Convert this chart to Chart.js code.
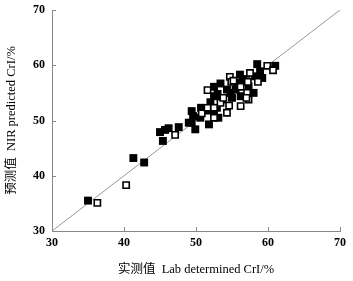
<!DOCTYPE html>
<html>
<head>
<meta charset="utf-8">
<script src="https://cdn.jsdelivr.net/npm/chart.js@4.4.1/dist/chart.umd.min.js"></script>
<style>
  html, body { margin: 0; padding: 0; background: #fff; }
  #wrap { width: 353px; height: 281px; }
</style>
</head>
<body>
<div id="wrap"><canvas id="chart" width="353" height="281"></canvas></div>
<script>
// calibration set (filled squares)
var calX = [35.0, 41.3, 42.8, 45.0, 45.4, 45.7, 46.2, 47.6, 49.4, 49.9, 49.4, 49.0, 50.7, 50.6, 51.8, 52.5, 52.0, 52.5, 52.5, 53.4, 53.1, 52.9, 54.3, 53.6, 56.1, 55.7, 55.5, 56.2, 57.3, 58.5, 58.2, 58.9, 58.0, 59.2, 61.0, 54.8, 55.0, 57.0, 53.0, 56.5, 51.5, 49.6];
var calY = [35.5, 43.2, 42.4, 47.9, 46.3, 48.3, 48.6, 48.8, 49.6, 48.4, 51.7, 49.6, 52.3, 50.5, 49.3, 51.4, 53.3, 56.1, 54.4, 56.7, 50.5, 52.3, 55.6, 53.8, 58.3, 56.8, 55.6, 54.4, 56.2, 60.2, 58.0, 58.9, 55.0, 57.7, 59.9, 55.0, 54.1, 57.1, 54.8, 57.5, 51.8, 50.8];
// validation set (open squares)
var valX = [36.3, 40.3, 47.1, 50.8, 51.6, 51.6, 52.5, 53.4, 53.8, 54.3, 54.6, 54.7, 54.9, 56.2, 56.2, 57.1, 57.2, 57.3, 57.5, 58.6, 59.9, 60.7, 57.0, 52.5, 55.2];
var valY = [35.1, 38.3, 47.4, 51.3, 55.5, 52.3, 50.5, 53.2, 54.1, 51.4, 52.7, 57.9, 57.0, 52.6, 56.1, 55.0, 57.0, 53.8, 58.6, 57.0, 59.9, 59.1, 54.1, 52.3, 57.2];
var lineEnds = [30, 70];
var tickVals = [30, 40, 50, 60, 70];

function pts(xs, ys) {
  var out = [];
  for (var i = 0; i < xs.length; i++) out.push({x: xs[i], y: ys[i]});
  return out;
}

var tickFont = {family: '"Liberation Serif", "DejaVu Serif", serif', size: 12, weight: 'bold'};
var titleFont = {family: '"Liberation Serif", "Noto Sans CJK SC", serif', size: 12.5};

// short inward tick marks, placed by the scales
var innerTicks = {
  id: 'innerTicks',
  afterDraw: function(chart) {
    var c = chart.ctx, xs = chart.scales.x, ys = chart.scales.y;
    c.save();
    c.strokeStyle = '#888';
    c.lineWidth = 1;
    tickVals.forEach(function(v) {
      var px = Math.round(xs.getPixelForValue(v)) + 0.5;
      c.beginPath(); c.moveTo(px, ys.bottom); c.lineTo(px, ys.bottom - 4); c.stroke();
      var py = Math.round(ys.getPixelForValue(v)) + 0.5;
      c.beginPath(); c.moveTo(xs.left, py); c.lineTo(xs.left + 4, py); c.stroke();
    });
    c.restore();
  }
};

var ctx = document.getElementById('chart').getContext('2d');
var chart = new Chart(ctx, {
  type: 'scatter',
  data: {
    datasets: [{
      data: pts(valX, valY),
      pointStyle: 'rect',
      pointRadius: 4.4,
      backgroundColor: '#fff',
      borderColor: '#000',
      borderWidth: 1.6,
      order: 0
    }, {
      data: pts(calX, calY),
      pointStyle: 'rect',
      pointRadius: 5.6,
      backgroundColor: '#000',
      borderColor: '#000',
      borderWidth: 0,
      order: 1
    }, {
      type: 'line',
      data: pts(lineEnds, lineEnds),
      borderColor: '#999',
      borderWidth: 1,
      pointRadius: 0,
      order: 2
    }]
  },
  options: {
    responsive: false,
    animation: false,
    devicePixelRatio: 1,
    layout: {padding: {left: 0, right: 13, top: 10, bottom: 0}},
    plugins: {legend: {display: false}, tooltip: {enabled: false}},
    scales: {
      x: {
        type: 'linear', min: 30, max: 70,
        afterBuildTicks: function(s) { s.ticks = tickVals.map(function(v){ return {value: v}; }); },
        afterFit: function(s) { s.height = 50; s.paddingLeft = 0; s.paddingRight = 0; },
        grid: {drawOnChartArea: false, drawTicks: false},
        border: {color: '#888', width: 1},
        ticks: {color: '#000', font: tickFont, padding: 5, maxRotation: 0},
        title: {display: true, text: '实测值  Lab determined CrI/%', color: '#000', font: titleFont, padding: {top: 3}}
      },
      y: {
        type: 'linear', min: 30, max: 70,
        afterBuildTicks: function(s) { s.ticks = tickVals.map(function(v){ return {value: v}; }); },
        afterFit: function(s) { s.width = 52; s.paddingTop = 0; s.paddingBottom = 0; },
        grid: {drawOnChartArea: false, drawTicks: false},
        border: {color: '#888', width: 1},
        ticks: {color: '#000', font: tickFont, padding: 7},
        title: {display: true, text: '预测值  NIR predicted CrI/%', color: '#000', font: titleFont, padding: {bottom: 3}}
      }
    }
  },
  plugins: [innerTicks]
});
</script>
</body>
</html>
